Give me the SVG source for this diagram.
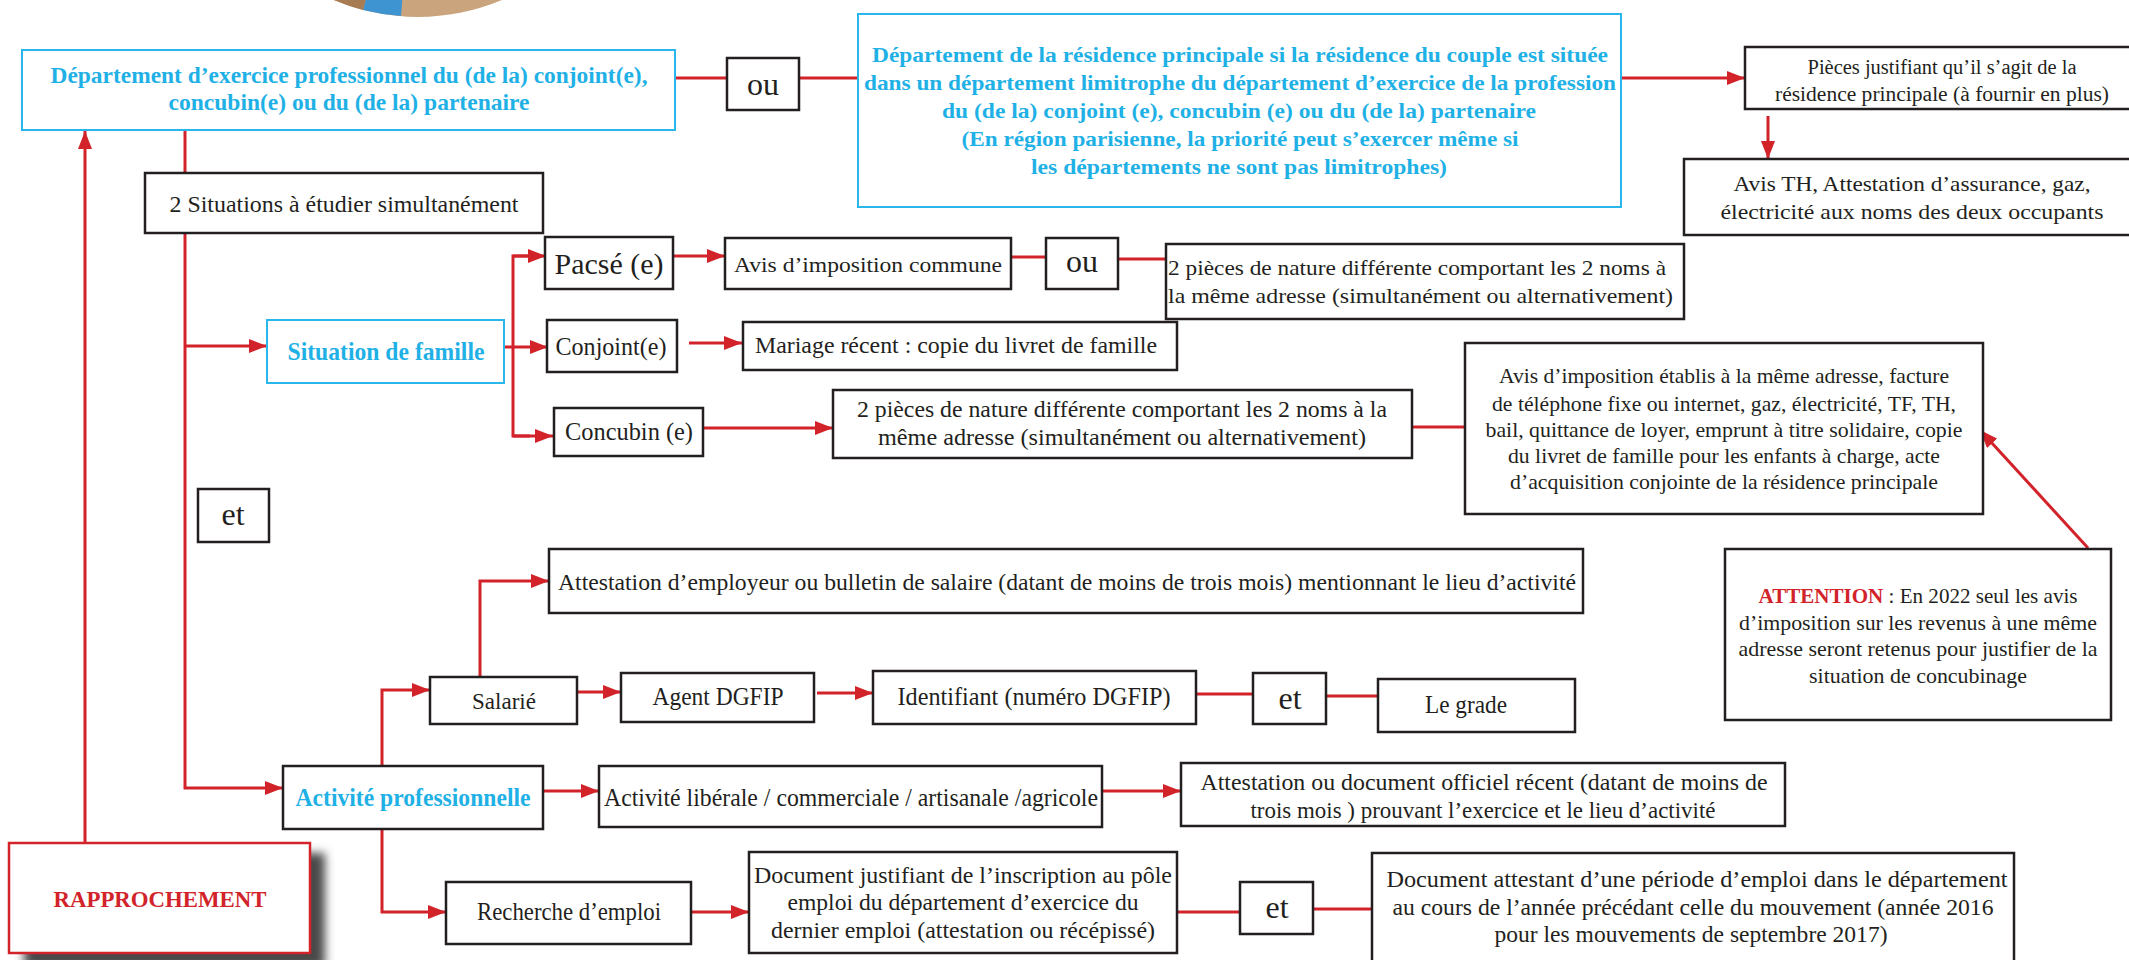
<svg xmlns="http://www.w3.org/2000/svg" width="2129" height="960" viewBox="0 0 2129 960">
<defs>
<style>
.bx{fill:#fff;stroke:#231f20;stroke-width:2.5}
.bb{fill:#fff;stroke:#29b6ea;stroke-width:2}
.br{fill:#fff;stroke:#d2232a;stroke-width:2.5}
.t{font-family:"Liberation Serif","Times New Roman",serif;font-size:21px;fill:#231f20;text-anchor:middle}
.tb{font-family:"Liberation Serif","Times New Roman",serif;font-weight:bold;fill:#1fb1e6;text-anchor:middle}
.big{font-size:32px}
.ln{fill:none;stroke:#d2232a;stroke-width:3}
.la{fill:none;stroke:#d2232a;stroke-width:3;marker-end:url(#ah)}
</style>
<marker id="ah" markerUnits="userSpaceOnUse" markerWidth="18" markerHeight="14" refX="18" refY="7" orient="auto">
<path d="M0,0 L18,7 L0,14 z" fill="#d2232a"/>
</marker>
<filter id="sh" x="-20%" y="-20%" width="140%" height="140%"><feGaussianBlur stdDeviation="5"/></filter>
</defs>

<g id="pie">
<circle cx="418" cy="-199" r="216" fill="#c9a47c"/>
<path d="M418,-199 L401,16 A216,216 0 0 1 363,10 Z" fill="#3e94d1"/>
<path d="M418,-199 L363,10 A216,216 0 0 1 202,-199 Z" fill="#a87c52"/>
</g>

<g id="connectors">
<line class="ln" x1="675" y1="78" x2="727" y2="78"/>
<line class="ln" x1="799" y1="78" x2="858" y2="78"/>
<line class="la" x1="1621" y1="78" x2="1745" y2="78"/>
<line class="la" x1="1768" y1="116" x2="1768" y2="159"/>
<polyline class="la" points="185,130 185,788 283,788"/>
<line class="la" x1="185" y1="346" x2="267" y2="346"/>
<line class="la" x1="85" y1="843" x2="85" y2="131"/>
<line class="ln" x1="504" y1="347" x2="513" y2="347"/>
<polyline class="ln" points="530,256 513,256 513,436 530,436"/>
<line class="la" x1="513" y1="256" x2="546" y2="256"/>
<line class="la" x1="513" y1="347" x2="548" y2="347"/>
<line class="la" x1="513" y1="436" x2="553" y2="436"/>
<line class="la" x1="673" y1="256" x2="725" y2="256"/>
<line class="ln" x1="1011" y1="257" x2="1046" y2="257"/>
<line class="ln" x1="1118" y1="259" x2="1166" y2="259"/>
<line class="la" x1="689" y1="343" x2="742" y2="343"/>
<line class="la" x1="703" y1="428" x2="833" y2="428"/>
<line class="ln" x1="1412" y1="427" x2="1465" y2="427"/>
<line class="la" x1="2088" y1="548" x2="1980" y2="430"/>
<polyline class="la" points="382,766 382,690 430,690"/>
<polyline class="la" points="480,677 480,581 549,581"/>
<line class="la" x1="577" y1="692" x2="621" y2="692"/>
<line class="la" x1="817" y1="693" x2="873" y2="693"/>
<line class="ln" x1="1196" y1="694" x2="1253" y2="694"/>
<line class="ln" x1="1326" y1="696" x2="1378" y2="696"/>
<line class="la" x1="543" y1="791" x2="599" y2="791"/>
<line class="la" x1="1102" y1="791" x2="1181" y2="791"/>
<polyline class="la" points="382,829 382,912 446,912"/>
<line class="la" x1="691" y1="912" x2="749" y2="912"/>
<line class="ln" x1="1177" y1="912" x2="1240" y2="912"/>
<line class="ln" x1="1313" y1="909" x2="1372" y2="909"/>
</g>

<g id="dep-conjoint">
<rect class="bb" x="22" y="50" width="653" height="80"/>
<text class="tb" style="font-size:23px" x="349" y="83" textLength="597" lengthAdjust="spacingAndGlyphs">Département d’exercice professionnel du (de la) conjoint(e),</text>
<text class="tb" style="font-size:23px" x="349" y="110" textLength="361" lengthAdjust="spacingAndGlyphs">concubin(e) ou du (de la) partenaire</text>
</g>
<g id="ou1">
<rect class="bx" x="727" y="58" width="72" height="52"/>
<text class="t big" x="763" y="95">ou</text>
</g>
<g id="dep-residence">
<rect class="bb" x="858" y="14" width="763" height="193"/>
<text class="tb" style="font-size:22px" x="1240" y="62" textLength="736" lengthAdjust="spacingAndGlyphs">Département de la résidence principale si la résidence du couple est située</text>
<text class="tb" style="font-size:22px" x="1240" y="90" textLength="752" lengthAdjust="spacingAndGlyphs">dans un département limitrophe du département d’exercice de la profession</text>
<text class="tb" style="font-size:22px" x="1239" y="118" textLength="594" lengthAdjust="spacingAndGlyphs">du (de la) conjoint (e), concubin (e) ou du (de la) partenaire</text>
<text class="tb" style="font-size:22px" x="1240" y="146" textLength="557" lengthAdjust="spacingAndGlyphs">(En région parisienne, la priorité peut s’exercer même si</text>
<text class="tb" style="font-size:22px" x="1239" y="174" textLength="416" lengthAdjust="spacingAndGlyphs">les départements ne sont pas limitrophes)</text>
</g>
<g id="pieces">
<rect class="bx" x="1745" y="47" width="400" height="62"/>
<text class="t" style="font-size:20px" x="1942" y="74" textLength="269" lengthAdjust="spacingAndGlyphs">Pièces justifiant qu’il s’agit de la</text>
<text class="t" style="font-size:20px" x="1942" y="101" textLength="334" lengthAdjust="spacingAndGlyphs">résidence principale (à fournir en plus)</text>
</g>
<g id="avis-th">
<rect class="bx" x="1684" y="159" width="460" height="76"/>
<text class="t" style="font-size:22px" x="1912" y="191" textLength="357" lengthAdjust="spacingAndGlyphs">Avis TH, Attestation d’assurance, gaz,</text>
<text class="t" style="font-size:22px" x="1912" y="219" textLength="383" lengthAdjust="spacingAndGlyphs">électricité aux noms des deux occupants</text>
</g>
<g id="deux-situations">
<rect class="bx" x="145" y="173" width="398" height="60"/>
<text class="t" style="font-size:23px" x="344" y="212" textLength="349" lengthAdjust="spacingAndGlyphs">2 Situations à étudier simultanément</text>
</g>
<g id="situation-famille">
<rect class="bb" x="267" y="320" width="237" height="63"/>
<text class="tb" style="font-size:25px" x="386" y="360" textLength="197" lengthAdjust="spacingAndGlyphs">Situation de famille</text>
</g>
<g id="pacse">
<rect class="bx" x="545" y="237" width="128" height="52"/>
<text class="t" style="font-size:30px" x="609" y="274" textLength="109" lengthAdjust="spacingAndGlyphs">Pacsé (e)</text>
</g>
<g id="avis-commune">
<rect class="bx" x="725" y="238" width="286" height="51"/>
<text class="t" style="font-size:22px" x="868" y="272" textLength="268" lengthAdjust="spacingAndGlyphs">Avis d’imposition commune</text>
</g>
<g id="ou2">
<rect class="bx" x="1046" y="238" width="72" height="51"/>
<text class="t big" x="1082" y="272">ou</text>
</g>
<g id="deux-pieces-pacs">
<rect class="bx" x="1166" y="244" width="518" height="75"/>
<text class="t" style="font-size:22px;text-anchor:start" x="1168" y="275" textLength="498" lengthAdjust="spacingAndGlyphs">2 pièces de nature différente comportant les 2 noms à</text>
<text class="t" style="font-size:22px;text-anchor:start" x="1168" y="303" textLength="505" lengthAdjust="spacingAndGlyphs">la même adresse (simultanément ou alternativement)</text>
</g>
<g id="conjoint">
<rect class="bx" x="547" y="320" width="130" height="52"/>
<text class="t" style="font-size:25px" x="611" y="355" textLength="111" lengthAdjust="spacingAndGlyphs">Conjoint(e)</text>
</g>
<g id="mariage">
<rect class="bx" x="743" y="322" width="434" height="48"/>
<text class="t" style="font-size:23px" x="956" y="353" textLength="402" lengthAdjust="spacingAndGlyphs">Mariage récent : copie du livret de famille</text>
</g>
<g id="concubin">
<rect class="bx" x="554" y="408" width="149" height="48"/>
<text class="t" style="font-size:25px" x="629" y="440" textLength="128" lengthAdjust="spacingAndGlyphs">Concubin (e)</text>
</g>
<g id="deux-pieces-concubin">
<rect class="bx" x="833" y="390" width="579" height="68"/>
<text class="t" style="font-size:23px" x="1122" y="417" textLength="530" lengthAdjust="spacingAndGlyphs">2 pièces de nature différente comportant les 2 noms à la</text>
<text class="t" style="font-size:23px" x="1122" y="445" textLength="488" lengthAdjust="spacingAndGlyphs">même adresse (simultanément ou alternativement)</text>
</g>
<g id="avis-etablis">
<rect class="bx" x="1465" y="343" width="518" height="171"/>
<text class="t" style="font-size:21px" x="1724" y="383" textLength="450" lengthAdjust="spacingAndGlyphs">Avis d’imposition établis à la même adresse, facture</text>
<text class="t" style="font-size:21px" x="1724" y="411" textLength="464" lengthAdjust="spacingAndGlyphs">de téléphone fixe ou internet, gaz, électricité, TF, TH,</text>
<text class="t" style="font-size:21px" x="1724" y="437" textLength="477" lengthAdjust="spacingAndGlyphs">bail, quittance de loyer, emprunt à titre solidaire, copie</text>
<text class="t" style="font-size:21px" x="1724" y="463" textLength="432" lengthAdjust="spacingAndGlyphs">du livret de famille pour les enfants à charge, acte</text>
<text class="t" style="font-size:21px" x="1724" y="489" textLength="428" lengthAdjust="spacingAndGlyphs">d’acquisition conjointe de la résidence principale</text>
</g>
<g id="et1">
<rect class="bx" x="198" y="489" width="71" height="53"/>
<text class="t big" x="233" y="525">et</text>
</g>
<g id="attention">
<rect class="bx" x="1725" y="549" width="386" height="171"/>
<text class="t" style="font-size:22px" x="1918" y="603" textLength="319" lengthAdjust="spacingAndGlyphs"><tspan fill="#d2232a" font-weight="bold">ATTENTION</tspan> : En 2022 seul les avis</text>
<text class="t" style="font-size:22px" x="1918" y="630" textLength="358" lengthAdjust="spacingAndGlyphs">d’imposition sur les revenus à une même</text>
<text class="t" style="font-size:22px" x="1918" y="656" textLength="359" lengthAdjust="spacingAndGlyphs">adresse seront retenus pour justifier de la</text>
<text class="t" style="font-size:22px" x="1918" y="683" textLength="218" lengthAdjust="spacingAndGlyphs">situation de concubinage</text>
</g>
<g id="attestation-employeur">
<rect class="bx" x="549" y="549" width="1034" height="64"/>
<text class="t" style="font-size:24px;text-anchor:start" x="558" y="590" textLength="1018" lengthAdjust="spacingAndGlyphs">Attestation d’employeur ou bulletin de salaire (datant de moins de trois mois) mentionnant le lieu d’activité</text>
</g>
<g id="salarie">
<rect class="bx" x="430" y="677" width="147" height="47"/>
<text class="t" style="font-size:24px" x="504" y="709" textLength="64" lengthAdjust="spacingAndGlyphs">Salarié</text>
</g>
<g id="agent">
<rect class="bx" x="621" y="673" width="193" height="49"/>
<text class="t" style="font-size:25px" x="718" y="705" textLength="131" lengthAdjust="spacingAndGlyphs">Agent DGFIP</text>
</g>
<g id="identifiant">
<rect class="bx" x="873" y="671" width="323" height="53"/>
<text class="t" style="font-size:25px" x="1034" y="705" textLength="273" lengthAdjust="spacingAndGlyphs">Identifiant (numéro DGFIP)</text>
</g>
<g id="et2">
<rect class="bx" x="1253" y="673" width="73" height="51"/>
<text class="t big" x="1290" y="709">et</text>
</g>
<g id="grade">
<rect class="bx" x="1378" y="679" width="197" height="53"/>
<text class="t" style="font-size:25px" x="1466" y="713" textLength="82" lengthAdjust="spacingAndGlyphs">Le grade</text>
</g>
<g id="activite-pro">
<rect class="bx" x="283" y="766" width="260" height="63"/>
<text class="tb" style="font-size:25px" x="413" y="806" textLength="235" lengthAdjust="spacingAndGlyphs">Activité professionnelle</text>
</g>
<g id="activite-liberale">
<rect class="bx" x="599" y="766" width="503" height="61"/>
<text class="t" style="font-size:25px" x="851" y="806" textLength="494" lengthAdjust="spacingAndGlyphs">Activité libérale / commerciale / artisanale /agricole</text>
</g>
<g id="attestation-officiel">
<rect class="bx" x="1181" y="763" width="604" height="63"/>
<text class="t" style="font-size:23px" x="1484" y="790" textLength="567" lengthAdjust="spacingAndGlyphs">Attestation ou document officiel récent (datant de moins de</text>
<text class="t" style="font-size:23px" x="1483" y="818" textLength="465" lengthAdjust="spacingAndGlyphs">trois mois ) prouvant l’exercice et le lieu d’activité</text>
</g>
<g id="recherche">
<rect class="bx" x="446" y="882" width="245" height="62"/>
<text class="t" style="font-size:25px" x="569" y="920" textLength="184" lengthAdjust="spacingAndGlyphs">Recherche d’emploi</text>
</g>
<g id="document-justifiant">
<rect class="bx" x="749" y="852" width="428" height="101"/>
<text class="t" style="font-size:24px" x="963" y="883" textLength="418" lengthAdjust="spacingAndGlyphs">Document justifiant de l’inscription au pôle</text>
<text class="t" style="font-size:24px" x="963" y="910" textLength="351" lengthAdjust="spacingAndGlyphs">emploi du département d’exercice du</text>
<text class="t" style="font-size:24px" x="963" y="938" textLength="384" lengthAdjust="spacingAndGlyphs">dernier emploi (attestation ou récépissé)</text>
</g>
<g id="et3">
<rect class="bx" x="1240" y="882" width="73" height="52"/>
<text class="t big" x="1277" y="918">et</text>
</g>
<g id="document-attestant">
<rect class="bx" x="1372" y="853" width="642" height="120"/>
<text class="t" style="font-size:23px" x="1697" y="887" textLength="621" lengthAdjust="spacingAndGlyphs">Document attestant d’une période d’emploi dans le département</text>
<text class="t" style="font-size:23px" x="1693" y="915" textLength="601" lengthAdjust="spacingAndGlyphs">au cours de l’année précédant celle du mouvement (année 2016</text>
<text class="t" style="font-size:23px" x="1691" y="942" textLength="393" lengthAdjust="spacingAndGlyphs">pour les mouvements de septembre 2017)</text>
</g>
<g id="rapprochement">
<rect x="24" y="853" width="301" height="115" fill="#4a4a4a" filter="url(#sh)"/>
<rect class="br" x="9" y="843" width="301" height="110"/>
<text x="160" y="907" font-family="'Liberation Serif','Times New Roman',serif" font-size="24" font-weight="bold" fill="#d2232a" text-anchor="middle" textLength="213" lengthAdjust="spacingAndGlyphs">RAPPROCHEMENT</text>
</g>
</svg>
